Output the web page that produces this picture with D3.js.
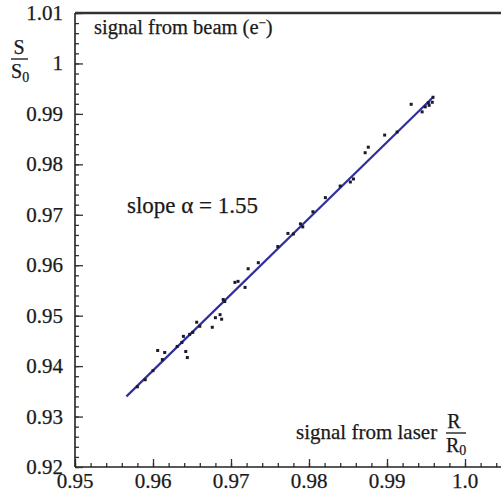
<!DOCTYPE html>
<html>
<head>
<meta charset="utf-8">
<script src="https://cdn.jsdelivr.net/npm/d3@7"></script>
<style>
  body { margin: 0; background: #fff; }
  svg text { font-family: "Liberation Serif", "Times New Roman", serif; fill: #1a1a1a; stroke: #1a1a1a; stroke-width: 0.25; }
</style>
</head>
<body>
<script>
// measured points: laser ratio R/R0 vs beam signal S/S0
var laserRatio = [0.9580, 0.9590, 0.9600, 0.9606, 0.9612, 0.9615, 0.9631, 0.9637, 0.9639, 0.9642,
                  0.9644, 0.9647, 0.9651, 0.9656, 0.9660, 0.9676, 0.9680, 0.9686, 0.9688, 0.9690,
                  0.9692, 0.9705, 0.9709, 0.9718, 0.9722, 0.9735, 0.9760, 0.9773, 0.9780, 0.9789,
                  0.9792, 0.9805, 0.9821, 0.9840, 0.9853, 0.9857, 0.9872, 0.9876, 0.9897, 0.9913,
                  0.9931, 0.9945, 0.9949, 0.9953, 0.9954, 0.9958, 0.9959];
var beamSignal = [0.9359, 0.9373, 0.9391, 0.9431, 0.9413, 0.9427, 0.9439, 0.9447, 0.9459, 0.9429,
                  0.9417, 0.9463, 0.9467, 0.9487, 0.9479, 0.9477, 0.9496, 0.9502, 0.9493, 0.9532,
                  0.9528, 0.9566, 0.9568, 0.9556, 0.9593, 0.9605, 0.9637, 0.9663, 0.9662, 0.9682,
                  0.9676, 0.9706, 0.9734, 0.9757, 0.9765, 0.9771, 0.9823, 0.9834, 0.9858, 0.9864,
                  0.9919, 0.9904, 0.9914, 0.9922, 0.9917, 0.9923, 0.9933];

// linear fit, slope ~1.55
var fitX = [0.9566, 0.9959];
var fitY = [0.9340, 0.9933];

var xTicks = [0.95, 0.96, 0.97, 0.98, 0.99, 1.0];
var xTickLabels = ["0.95", "0.96", "0.97", "0.98", "0.99", "1.0"];
var yTicks = [0.92, 0.93, 0.94, 0.95, 0.96, 0.97, 0.98, 0.99, 1.0, 1.01];
var yTickLabels = ["0.92", "0.93", "0.94", "0.95", "0.96", "0.97", "0.98", "0.99", "1", "1.01"];

var width = 501, height = 494;
var margin = {left: 75, top: 13, bottom: 467};

var svg = d3.select("body").append("svg")
   .attr("width", width)
   .attr("height", height);

var x = d3.scaleLinear().domain([0.95, 1.0]).range([margin.left, margin.left + 390]);
var y = d3.scaleLinear().domain([0.92, 1.01]).range([margin.bottom, margin.top]);

// minor ticks every 0.002
var xMinor = d3.range(0.95, 1.0047, 0.002);
var yMinor = d3.range(0.92, 1.0101, 0.002);

// x axis (ticks point up into plot)
svg.append("g")
   .attr("transform", "translate(0," + margin.bottom + ")")
   .call(d3.axisTop(x).tickValues(xMinor).tickSize(4).tickFormat(""))
   .call(function(g) { g.select(".domain").remove(); });
svg.append("g")
   .attr("transform", "translate(0," + margin.bottom + ")")
   .call(d3.axisTop(x).tickValues(xTicks).tickSize(8).tickFormat(""))
   .call(function(g) { g.select(".domain").remove(); });
svg.append("line")
   .attr("x1", margin.left).attr("x2", width)
   .attr("y1", margin.bottom).attr("y2", margin.bottom)
   .attr("stroke", "#222").attr("stroke-width", 1.6);
svg.selectAll(".xlab")
   .data(xTicks)
   .enter().append("text")
   .attr("class", "xlab")
   .attr("x", function(d) { return x(d); })
   .attr("y", margin.bottom + 21)
   .attr("text-anchor", "middle")
   .attr("font-size", 21)
   .text(function(d, i) { return xTickLabels[i]; });

// y axis (ticks point right into plot)
svg.append("g")
   .attr("transform", "translate(" + margin.left + ",0)")
   .call(d3.axisRight(y).tickValues(yMinor).tickSize(4).tickFormat(""))
   .call(function(g) { g.select(".domain").remove(); });
svg.append("g")
   .attr("transform", "translate(" + margin.left + ",0)")
   .call(d3.axisRight(y).tickValues(yTicks).tickSize(8).tickFormat(""))
   .call(function(g) { g.select(".domain").remove(); });
svg.selectAll(".tick line").attr("stroke", "#333").attr("stroke-width", 1.3);
svg.append("line")
   .attr("x1", margin.left).attr("x2", margin.left)
   .attr("y1", margin.top).attr("y2", margin.bottom)
   .attr("stroke", "#222").attr("stroke-width", 1.6);
svg.selectAll(".ylab")
   .data(yTicks)
   .enter().append("text")
   .attr("class", "ylab")
   .attr("x", margin.left - 12)
   .attr("y", function(d) { return y(d) + 7; })
   .attr("text-anchor", "end")
   .attr("font-size", 21)
   .text(function(d, i) { return yTickLabels[i]; });

// top frame
svg.append("line")
   .attr("x1", margin.left).attr("x2", width)
   .attr("y1", margin.top).attr("y2", margin.top)
   .attr("stroke", "#333").attr("stroke-width", 2.5);

// fit line
svg.append("path")
   .datum(d3.zip(fitX, fitY))
   .attr("fill", "none")
   .attr("stroke", "#30309c")
   .attr("stroke-width", 2.2)
   .attr("d", d3.line().x(function(d) { return x(d[0]); }).y(function(d) { return y(d[1]); }));

// data points
svg.selectAll(".pt")
   .data(d3.zip(laserRatio, beamSignal))
   .enter().append("rect")
   .attr("class", "pt")
   .attr("x", function(d) { return x(d[0]) - 1.5; })
   .attr("y", function(d) { return y(d[1]) - 1.5; })
   .attr("width", 3)
   .attr("height", 3)
   .attr("fill", "#1a1a2a");

// annotations
svg.append("text")
   .attr("x", 94).attr("y", 34)
   .attr("font-size", 20.5)
   .html('signal from beam (e<tspan dy="-7" font-size="13">\u2212</tspan><tspan dy="7">)</tspan>');

svg.append("text")
   .attr("x", 127).attr("y", 213)
   .attr("font-size", 23)
   .text("slope \u03b1 = 1.55");

svg.append("text")
   .attr("x", 296).attr("y", 439)
   .attr("font-size", 21)
   .text("signal from laser");

// R / R0 fraction
svg.append("text").attr("x", 454).attr("y", 428).attr("text-anchor", "middle")
   .attr("font-size", 20).text("R");
svg.append("line").attr("x1", 446).attr("x2", 466).attr("y1", 433).attr("y2", 433)
   .attr("stroke", "#222").attr("stroke-width", 1.4);
svg.append("text").attr("x", 446).attr("y", 452).attr("font-size", 20)
   .html('R<tspan dy="3" font-size="14">0</tspan>');

// S / S0 fraction on the y axis
svg.append("text").attr("x", 19).attr("y", 54).attr("text-anchor", "middle")
   .attr("font-size", 20).text("S");
svg.append("line").attr("x1", 11).attr("x2", 28).attr("y1", 59).attr("y2", 59)
   .attr("stroke", "#222").attr("stroke-width", 1.4);
svg.append("text").attr("x", 11).attr("y", 78).attr("font-size", 20)
   .html('S<tspan dy="4" font-size="14">0</tspan>');
</script>
</body>
</html>
